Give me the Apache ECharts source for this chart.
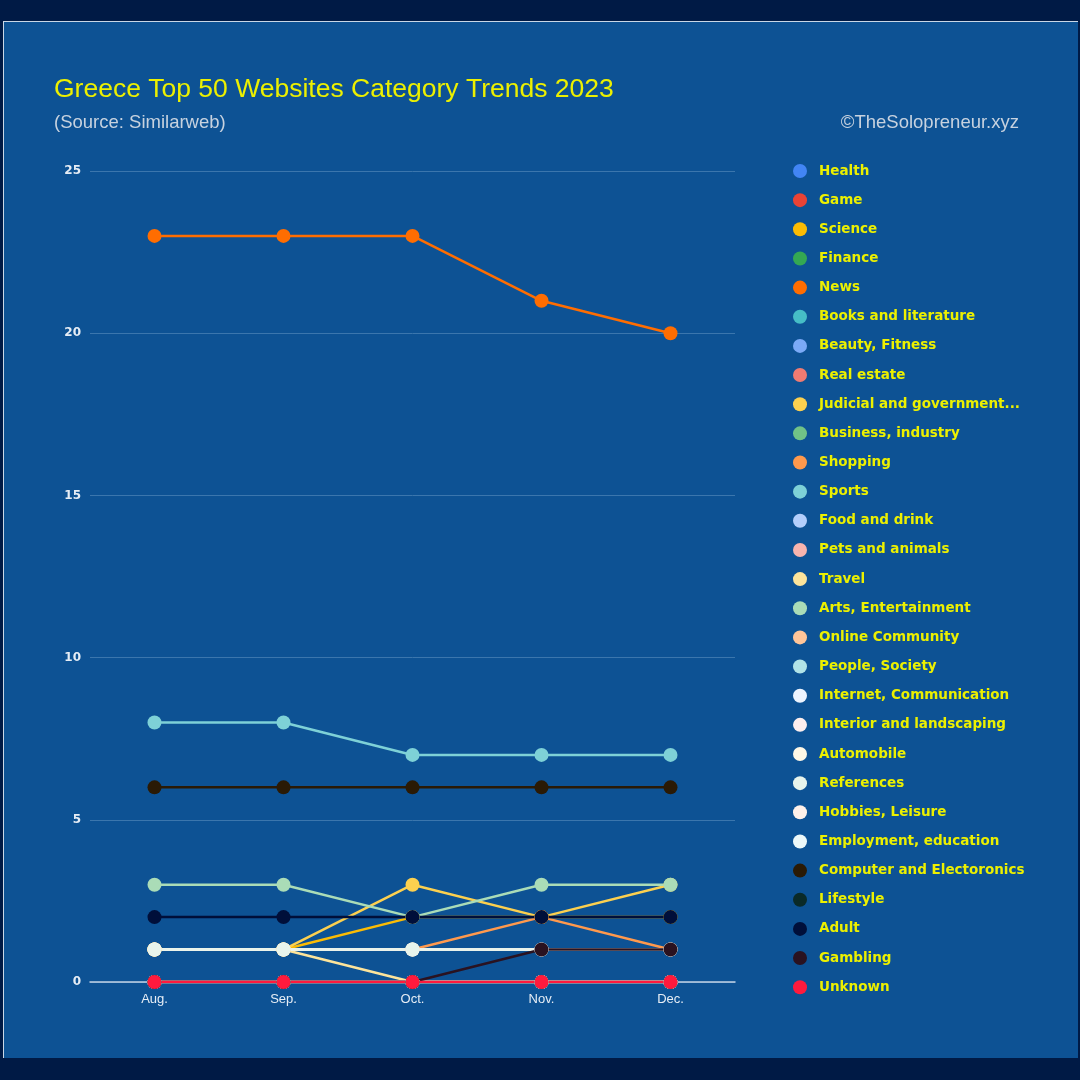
<!DOCTYPE html>
<html>
<head>
<meta charset="utf-8">
<script src="https://cdn.jsdelivr.net/npm/echarts@6/dist/echarts.min.js"></script>
<style>
  html, body { margin: 0; padding: 0; background: #001a45; }
  #panel {
    position: absolute; left: 3px; top: 21px; width: 1074px; height: 1036px;
    background: #0d5294; border-top: 1px solid #c9d7e6; border-left: 1px solid #c9d7e6;
  }
  #chart { position: absolute; left: 0; top: 0; width: 1080px; height: 1080px; }
</style>
</head>
<body>
<div id="panel"></div>
<div id="chart"></div>
<script>
const months = ['Aug.', 'Sep.', 'Oct.', 'Nov.', 'Dec.'];

const categories = [
  'Health', 'Game', 'Science', 'Finance', 'News', 'Books and literature',
  'Beauty, Fitness', 'Real estate', 'Judicial and government...', 'Business, industry',
  'Shopping', 'Sports', 'Food and drink', 'Pets and animals', 'Travel',
  'Arts, Entertainment', 'Online Community', 'People, Society', 'Internet, Communication',
  'Interior and landscaping', 'Automobile', 'References', 'Hobbies, Leisure',
  'Employment, education', 'Computer and Electoronics', 'Lifestyle', 'Adult',
  'Gambling', 'Unknown'
];

// number of sites per category, Aug..Dec
const health = [0, 0, 0, 0, 0];
const game = [0, 0, 0, 0, 0];
const science = [1, 1, 2, 2, 2];
const finance = [0, 0, 0, 0, 0];
const news = [23, 23, 23, 21, 20];
const books = [0, 0, 0, 0, 0];
const beauty = [0, 0, 0, 0, 0];
const realEstate = [0, 0, 0, 0, 0];
const judicial = [1, 1, 3, 2, 3];
const business = [0, 0, 0, 0, 0];
const shopping = [1, 1, 1, 2, 1];
const sports = [8, 8, 7, 7, 7];
const food = [0, 0, 0, 0, 0];
const pets = [0, 0, 0, 0, 0];
const travel = [1, 1, 0, 0, 0];
const arts = [3, 3, 2, 3, 3];
const community = [0, 0, 0, 0, 0];
const people = [0, 0, 0, 0, 0];
const internet = [1, 1, 1, 1, 1];
const interior = [0, 0, 0, 0, 0];
const automobile = [1, 1, 1, 1, 1];
const references = [1, 1, 1, 1, 1];
const hobbies = [0, 0, 0, 0, 0];
const employment = [0, 0, 0, 0, 0];
const computer = [6, 6, 6, 6, 6];
const lifestyle = [0, 0, 0, 0, 0];
const adult = [2, 2, 2, 2, 2];
const gambling = [0, 0, 0, 1, 1];
const unknown = [0, 0, 0, 0, 0];

const values = [
  health, game, science, finance, news, books, beauty, realEstate, judicial, business,
  shopping, sports, food, pets, travel, arts, community, people, internet, interior,
  automobile, references, hobbies, employment, computer, lifestyle, adult, gambling, unknown
];

const colors = [
  '#4285f4', '#ea4335', '#fbbc04', '#34a853', '#ff6d01', '#46bdc6', '#7baaf7', '#f07b72',
  '#fcd04f', '#71c287', '#ff994d', '#7ed1d7', '#b3cefb', '#f7b4ae', '#fde49b', '#aadcb7',
  '#ffc599', '#b1e3e7', '#ecf3fe', '#fdeeee', '#fff8e6', '#e8f4ec', '#fff1ea', '#ecf8f9',
  '#2a1a05', '#0a2a28', '#000f3a', '#2a1220', '#ff1a3d'
];

const chart = echarts.init(document.getElementById('chart'));

const series = categories.map((name, i) => ({
  name: name,
  type: 'line',
  data: values[i],
  symbol: 'circle',
  symbolSize: 14,
  lineStyle: { width: 2.5 },
  itemStyle: { color: colors[i] },
  emphasis: { disabled: true }
}));

const option = {
  backgroundColor: 'transparent',
  color: colors,
  animation: false,
  title: [
    {
      text: 'Greece Top 50 Websites Category Trends 2023',
      left: 49, top: 71,
      textStyle: { color: '#ecf000', fontSize: 26.5, fontWeight: 'normal', fontFamily: 'Liberation Sans' }
    },
    {
      text: '(Source: Similarweb)',
      left: 49, top: 108,
      textStyle: { color: '#c7d2df', fontSize: 18.5, fontWeight: 'normal', fontFamily: 'Liberation Sans' }
    },
    {
      text: '©TheSolopreneur.xyz',
      right: 56, top: 108,
      textStyle: { color: '#c7d2df', fontSize: 18.5, fontWeight: 'normal', fontFamily: 'Liberation Sans' }
    }
  ],
  legend: {
    orient: 'vertical',
    left: 788,
    top: 159,
    icon: 'circle',
    itemWidth: 14,
    itemHeight: 14,
    itemGap: 15.15,
    data: categories,
    textStyle: {
      color: '#ecf000', fontSize: 13.5, fontWeight: 'bold', fontFamily: 'DejaVu Sans',
      padding: [2, 0, 0, 7]
    }
  },
  grid: { left: 90, right: 345, top: 171, bottom: 98 },
  xAxis: {
    type: 'category',
    data: months,
    boundaryGap: true,
    axisLine: { lineStyle: { color: '#c2d3e6', width: 1.5 } },
    axisTick: { show: false },
    axisLabel: { color: '#e6edf5', fontSize: 13, fontFamily: 'Liberation Sans', margin: 11 }
  },
  yAxis: {
    type: 'value',
    min: 0, max: 25, interval: 5,
    axisLine: { show: false },
    axisTick: { show: false },
    splitLine: { lineStyle: { color: '#3b76ad', width: 1 } },
    axisLabel: { color: '#e6edf5', fontSize: 12, fontWeight: 'bold', fontFamily: 'DejaVu Sans', margin: 9 }
  },
  series: series
};

chart.setOption(option);
</script>
</body>
</html>
